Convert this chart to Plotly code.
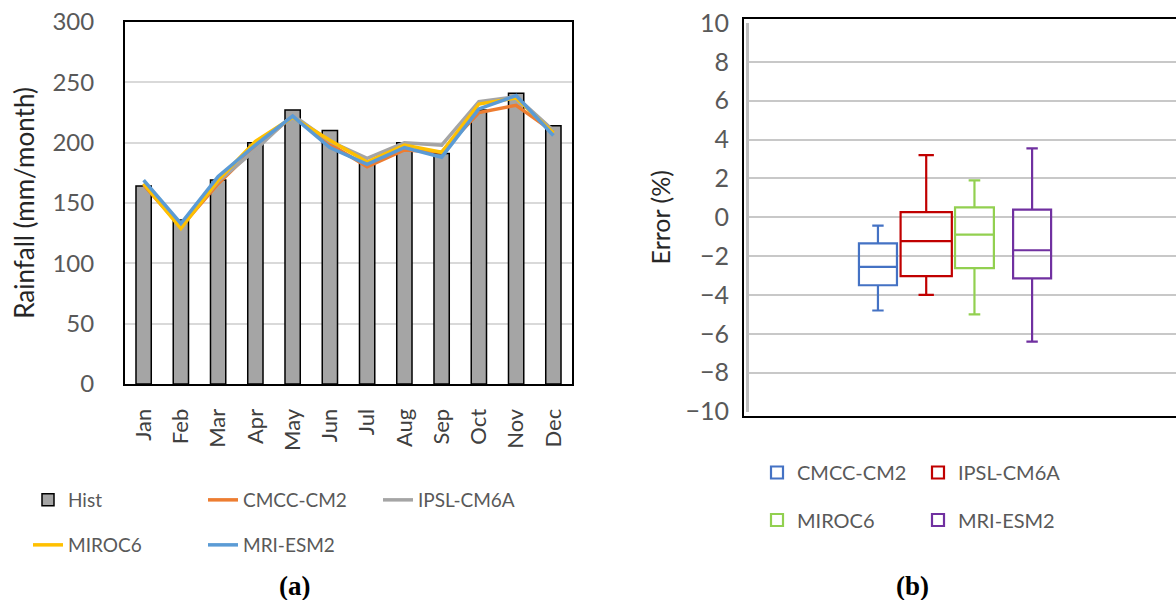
import plotly.graph_objects as go

# ---------------- data ----------------
months = ["Jan", "Feb", "Mar", "Apr", "May", "Jun", "Jul", "Aug", "Sep", "Oct", "Nov", "Dec"]
hist = [164, 136, 169, 200, 227, 210, 184, 200, 191, 227, 241, 214]
cmcc = [165, 130, 166, 196, 222, 199, 180, 194, 192, 225, 231, 209]
ipsl = [166, 131, 168, 194, 223, 201, 187, 200, 198, 234, 238, 210]
miroc = [166, 129, 169, 201, 221, 202, 184, 198, 192, 232, 237, 208]
mri = [169, 133, 172, 198, 222, 196, 182, 196, 188, 228, 239, 206]

box_models = ["CMCC-CM2", "IPSL-CM6A", "MIROC6", "MRI-ESM2"]
box_lower = [-4.8, -4.0, -5.0, -6.4]
box_q1 = [-3.5, -3.03, -2.62, -3.15]
box_median = [-2.55, -1.23, -0.89, -1.7]
box_q3 = [-1.35, 0.26, 0.51, 0.39]
box_upper = [-0.43, 3.2, 1.9, 3.55]

y1_ticks = [0, 50, 100, 150, 200, 250, 300]
y2_ticks = [-10, -8, -6, -4, -2, 0, 2, 4, 6, 8, 10]

# ---------------- style ----------------
W, H = 1176, 600
FONT = "Lato"
line_colors = {"CMCC-CM2": "#ED7D31", "IPSL-CM6A": "#A5A5A5", "MIROC6": "#FFC000", "MRI-ESM2": "#5B9BD5"}
box_colors = ["#4472C4", "#C00000", "#92D050", "#7030A0"]
box_pos = [3.02, 4.15, 5.28, 6.63]
box_w = [0.89, 1.2, 0.91, 0.89]


def px_x(p):
    return p / W


def px_y(p):
    return 1 - p / H


fig = go.Figure()

fig.add_trace(go.Bar(
    x=months, y=hist, name="Hist",
    marker=dict(color="#A5A5A5", line=dict(color="black", width=1.5)),
    xaxis="x", yaxis="y", legend="legend",
))

series = [("CMCC-CM2", cmcc, "legend"), ("IPSL-CM6A", ipsl, "legend"),
          ("MIROC6", miroc, "legend3"), ("MRI-ESM2", mri, "legend3")]
for name, vals, lg in series:
    fig.add_trace(go.Scatter(
        x=months, y=vals, name=name, mode="lines",
        line=dict(color=line_colors[name], width=3.5),
        xaxis="x", yaxis="y", legend=lg,
    ))

for i, name in enumerate(box_models):
    fig.add_trace(go.Box(
        x=[box_pos[i]], q1=[box_q1[i]], median=[box_median[i]], q3=[box_q3[i]],
        lowerfence=[box_lower[i]], upperfence=[box_upper[i]],
        name=name, width=box_w[i], whiskerwidth=0.3,
        line=dict(color=box_colors[i], width=2.2),
        fillcolor="rgba(255,255,255,0)",
        boxpoints=False,
        xaxis="x2", yaxis="y2",
        legend="legend2" if i < 2 else "legend4",
    ))

legend_common = dict(orientation="h", xanchor="left", yanchor="middle",
                     bgcolor="rgba(0,0,0,0)", borderwidth=0,
                     entrywidthmode="pixels")

fig.update_layout(
    width=W, height=H,
    margin=dict(l=0, r=0, t=0, b=0, autoexpand=False),
    paper_bgcolor="white", plot_bgcolor="white",
    font=dict(family=FONT, size=20, color="#595959"),
    bargap=0.59,
    showlegend=True,
    xaxis=dict(
        domain=[px_x(125), px_x(572)], anchor="y",
        type="category", tickangle=-90,
        tickfont=dict(size=22, color="#404040"),
        ticklabelstandoff=14,
        showline=True, mirror=True, linecolor="black", linewidth=2,
        showgrid=False, ticks="", automargin=False,
    ),
    yaxis=dict(
        domain=[px_y(384), px_y(22)], anchor="x",
        range=[0, 300], tickvals=y1_ticks,
        tickfont=dict(size=24, color="#595959"),
        ticklabelstandoff=24,
        showline=True, mirror=True, linecolor="black", linewidth=2,
        gridcolor="#D9D9D9", gridwidth=1.5, zeroline=False, automargin=False,
        title=dict(text="Rainfall (mm/month)", font=dict(size=26, color="#262626"), standoff=10),
    ),
    xaxis2=dict(
        domain=[px_x(749), 1.0], anchor="y2",
        range=[0, 10], showticklabels=False, showgrid=False, zeroline=False,
        showline=False, ticks="", automargin=False,
    ),
    yaxis2=dict(
        domain=[px_y(411.5), px_y(23)], anchor="x2",
        range=[-10, 10], tickvals=y2_ticks,
        tickfont=dict(size=25, color="#595959"),
        ticklabelstandoff=12,
        showline=True, linecolor="#BFBFBF", linewidth=3,
        gridcolor="#C8C8C8", gridwidth=1.5, zeroline=False, automargin=False,
        title=dict(text="Error (%)", font=dict(size=25, color="#262626"), standoff=8),
    ),
    legend=dict(legend_common, x=px_x(28), y=px_y(500), entrywidth=130,
                font=dict(size=19, color="#595959")),
    legend3=dict(legend_common, x=px_x(28), y=px_y(545), entrywidth=130,
                 font=dict(size=19, color="#595959")),
    legend2=dict(legend_common, x=px_x(757), y=px_y(472.5), entrywidth=116,
                 font=dict(size=20, color="#595959")),
    legend4=dict(legend_common, x=px_x(757), y=px_y(520), entrywidth=116,
                 font=dict(size=20, color="#595959")),
    shapes=[dict(type="rect", xref="paper", yref="paper",
                 x0=px_x(743), x1=1.02, y0=px_y(417), y1=px_y(18),
                 line=dict(color="black", width=2), fillcolor="rgba(0,0,0,0)",
                 layer="above")],
    annotations=[
        dict(text="<b>(a)</b>", x=px_x(294), y=px_y(586), xref="paper", yref="paper",
             xanchor="center", yanchor="middle",
             showarrow=False, font=dict(family="Liberation Serif", size=27, color="black")),
        dict(text="<b>(b)</b>", x=px_x(912), y=px_y(586), xref="paper", yref="paper",
             xanchor="center", yanchor="middle",
             showarrow=False, font=dict(family="Liberation Serif", size=27, color="black")),
    ],
)

fig.write_html("out.html")
